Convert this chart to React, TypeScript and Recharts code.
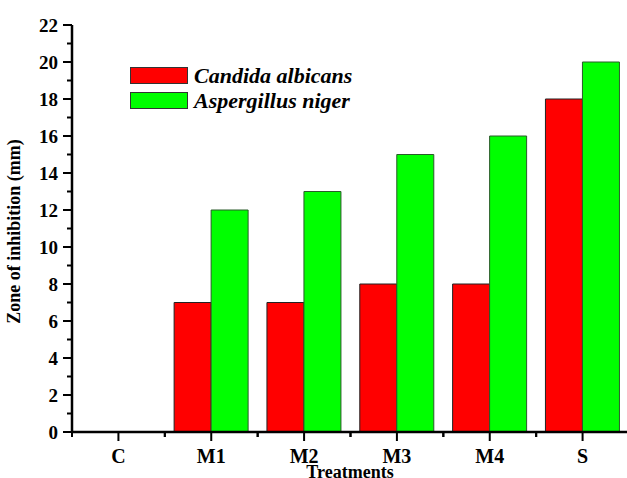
import React from 'react';
import { BarChart, Bar, XAxis, YAxis } from 'recharts';

const categories = ['C', 'M1', 'M2', 'M3', 'M4', 'S'];
const candida = [0, 7, 7, 8, 8, 18];
const aspergillus = [0, 12, 13, 15, 16, 20];
const yTicks = [0, 1, 2, 3, 4, 5, 6, 7, 8, 9, 10, 11, 12, 13, 14, 15, 16, 17, 18, 19, 20, 21, 22];
const seriesNames = ['Candida albicans', 'Aspergillus niger'];
const colors = ['#ff0000', '#00ff00'];

const data = categories.map((c, i) => ({ name: c, ca: candida[i], an: aspergillus[i] }));

const W = 627;
const H = 478;
const PLOT_LEFT = 72;
const PLOT_RIGHT = 629;
const BAND = (PLOT_RIGHT - PLOT_LEFT) / categories.length;
const FONT = '"Liberation Serif", "Times New Roman", Times, serif';

const XTick = (props: any) => {
  const { x, y, payload } = props;
  return (
    <g>
      <line x1={x} y1={y - 8} x2={x} y2={y + 1} stroke="#000" strokeWidth={2} />
      <line x1={x - BAND / 2} y1={y - 8} x2={x - BAND / 2} y2={y - 3} stroke="#000" strokeWidth={2} />
      <line x1={x + BAND / 2} y1={y - 8} x2={x + BAND / 2} y2={y - 3} stroke="#000" strokeWidth={2} />
      <text x={x} y={y + 23} textAnchor="middle" style={{ fontFamily: FONT, fontWeight: 'bold', fontSize: 20 }} fill="#000">
        {payload.value}
      </text>
    </g>
  );
};

const TopTick = (props: any) => {
  const { x, y } = props;
  return (
    <g>
      <line x1={x} y1={y + 8} x2={x} y2={y + 11} stroke="#555" strokeWidth={1.5} />
      <line x1={x - BAND / 2} y1={y + 8} x2={x - BAND / 2} y2={y + 11} stroke="#555" strokeWidth={1.5} />
    </g>
  );
};

const YTick = (props: any) => {
  const { y, payload } = props;
  const v = payload.value;
  const major = v % 2 === 0;
  const ax = PLOT_LEFT;
  return (
    <g>
      <line x1={ax - (major ? 9 : 5)} y1={y} x2={ax} y2={y} stroke="#000" strokeWidth={2} />
      {major && (
        <text x={ax - 14} y={y + 6.5} textAnchor="end" style={{ fontFamily: FONT, fontWeight: 'bold', fontSize: 19 }} fill="#000">
          {v}
        </text>
      )}
    </g>
  );
};

export default function App() {
  return (
    <div style={{ position: 'absolute', left: 0, top: 0, width: W, height: H, overflow: 'hidden', background: '#fff' }}>
      <BarChart
        width={W}
        height={H}
        data={data}
        margin={{ top: 25, right: -2, left: 0, bottom: 0 }}
        barCategoryGap="10%"
        barGap={0}
      >
        <XAxis
          dataKey="name"
          xAxisId="bottom"
          height={46}
          axisLine={{ stroke: '#000', strokeWidth: 2.5 }}
          tickLine={false}
          tick={<XTick />}
          interval={0}
        />
        <XAxis
          dataKey="name"
          xAxisId="top"
          orientation="top"
          height={0}
          axisLine={{ stroke: '#000', strokeWidth: 2.5 }}
          tickLine={false}
          tick={<TopTick />}
          interval={0}
        />
        <YAxis
          width={72}
          domain={[0, 22]}
          ticks={yTicks}
          interval={0}
          axisLine={{ stroke: '#000', strokeWidth: 2.5 }}
          tickLine={false}
          tick={<YTick />}
          label={{
            value: 'Zone of inhibition (mm)',
            angle: -90,
            position: 'insideLeft',
            offset: 0,
            dx: 14,
            dy: 3,
            style: { textAnchor: 'middle', fontFamily: FONT, fontWeight: 'bold', fontSize: 18, fill: '#000' },
          }}
        />
        <Bar xAxisId="bottom" dataKey="ca" name={seriesNames[0]} fill={colors[0]} stroke="#222" strokeWidth={1} isAnimationActive={false} />
        <Bar xAxisId="bottom" dataKey="an" name={seriesNames[1]} fill={colors[1]} stroke="#2a5a2a" strokeWidth={1} isAnimationActive={false} />
      </BarChart>
      <div style={{ position: 'absolute', left: 130, top: 63, fontFamily: FONT }}>
        {seriesNames.map((n, i) => (
          <div key={n} style={{ display: 'flex', alignItems: 'center', height: 25 }}>
            <div style={{ width: 58, height: 17, background: colors[i], border: '1px solid #333', boxSizing: 'border-box' }} />
            <span style={{ marginLeft: 6, fontStyle: 'italic', fontWeight: 'bold', fontSize: 22, color: '#000', lineHeight: '25px' }}>{n}</span>
          </div>
        ))}
      </div>
      <div
        style={{
          position: 'absolute',
          left: 0,
          width: 700,
          top: 462,
          textAlign: 'center',
          fontFamily: FONT,
          fontWeight: 'bold',
          fontSize: 18,
          lineHeight: '20px',
          color: '#000',
        }}
      >
        Treatments
      </div>
    </div>
  );
}
